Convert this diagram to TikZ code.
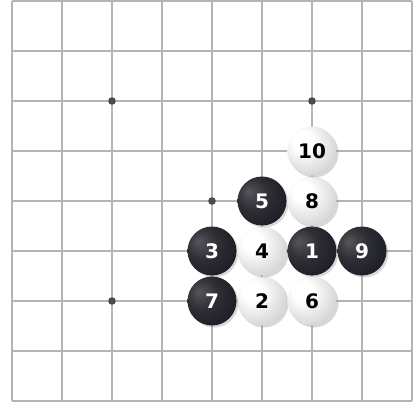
\documentclass[tikz,border=0pt]{standalone}
\usepackage{fontspec}
\setsansfont{DejaVu Sans}
\usetikzlibrary{shadows}
\definecolor{gridgray}{RGB}{180,180,180}
\definecolor{stargray}{RGB}{75,75,75}
\definecolor{stoneblack}{RGB}{28,28,36}
\pgfdeclareradialshading{whitestone}{\pgfpoint{-12bp}{12bp}}{color(0bp)=(white); color(10bp)=(white); color(26bp)=(black!12); color(42bp)=(black!24); color(60bp)=(black!38)}
\pgfdeclareradialshading{blackstone}{\pgfpoint{-14bp}{10bp}}{color(0bp)=(stoneblack!75!white); color(16bp)=(stoneblack!92!white); color(34bp)=(stoneblack); color(60bp)=(stoneblack)}
\tikzset{
  gridline/.style={draw=gridgray, line width=1.3pt},
  starpt/.style={fill=stargray},
  stone/.style={circle, minimum size=49pt, inner sep=0pt,
    font=\sffamily\bfseries\fontsize{20}{20}\selectfont,
    drop shadow={shadow xshift=2pt, shadow yshift=-2pt, opacity=0.3}},
  bstone/.style={stone, shading=blackstone, text=white},
  wstone/.style={stone, shading=whitestone, text=black},
}
\begin{document}
\begin{tikzpicture}[x=1pt,y=-1pt]
\useasboundingbox (0,0) rectangle (418,405);
\fill[white] (0,0) rectangle (418,405);
\foreach \i in {0,...,8} {
  \draw[gridline] (12+50*\i,1) -- (12+50*\i,401);
  \draw[gridline] (12,1+50*\i) -- (412,1+50*\i);
}
\foreach \p in {(112,101),(312,101),(112,301),(212,201)} {
  \fill[starpt] \p circle (3.8pt);
}
\node[bstone] (s1) at (312,251) {1};
\node[wstone] (s2) at (262,301) {2};
\node[bstone] (s3) at (212,251) {3};
\node[wstone] (s4) at (262,251) {4};
\node[bstone] (s5) at (262,201) {5};
\node[wstone] (s6) at (312,301) {6};
\node[bstone] (s7) at (212,301) {7};
\node[wstone] (s8) at (312,201) {8};
\node[bstone] (s9) at (362,251) {9};
\node[wstone] (s10) at (312,151) {10};
\end{tikzpicture}
\end{document}
